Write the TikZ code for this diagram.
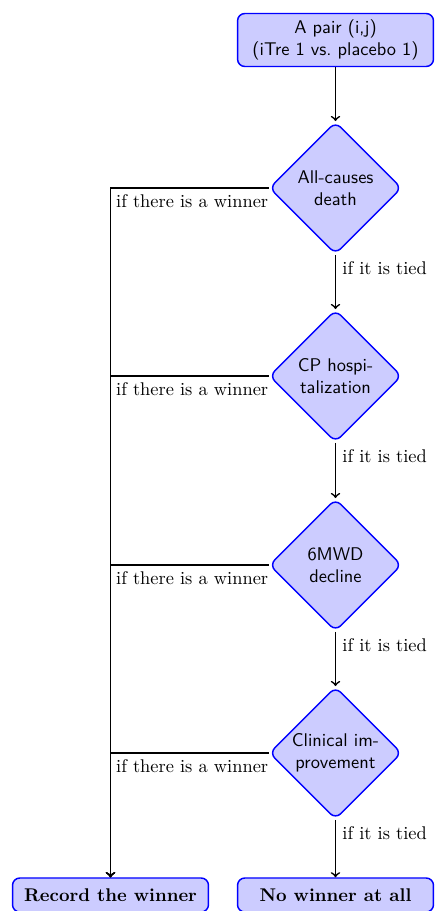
\documentclass[tikz,border=0pt]{standalone}
\usetikzlibrary{shapes.geometric}
\begin{document}
\begin{tikzpicture}[x=0.5435pt, y=-0.5435pt,
  boxnode/.style={draw=blue, fill=blue!20, thick, rounded corners,
    minimum width=106.5pt, align=center},
  decision/.style={diamond, draw=blue, fill=blue!20, thick, rounded corners,
    inner sep=0pt, minimum size=72pt, align=center, font=\sffamily},
  link/.style={line width=0.9pt, ->},
  tiedlabel/.style={pos=0, anchor=north west},
  winlabel/.style={anchor=north east, inner xsep=0pt}]
\useasboundingbox (0,0) rectangle (434,911);

\node[boxnode, font=\sffamily, minimum height=28.8pt] (pair) at (335.5,40)
  {A pair (i,j)\\(iTre 1 vs.\ placebo 1)};
\node[decision] (death) at (335.5,188) {All-causes\\death};
\node[decision] (hosp)  at (335.5,376) {CP hospi-\\talization};
\node[decision] (mwd)   at (335.5,565) {6MWD\\decline};
\node[decision] (clin)  at (335.5,753) {Clinical im-\\provement};
\node[boxnode, font=\bfseries, minimum height=18.5pt] (rec)  at (110.5,895) {Record the winner};
\node[boxnode, font=\bfseries, minimum height=18.5pt] (none) at (335.5,895) {No winner at all};

% main chain
\draw[link] (pair) -- (death);
\draw[link] (death) -- node[tiedlabel] {if it is tied} (hosp);
\draw[link] (hosp)  -- node[tiedlabel] {if it is tied} (mwd);
\draw[link] (mwd)   -- node[tiedlabel] {if it is tied} (clin);
\draw[link] (clin)  -- node[tiedlabel] {if it is tied} (none);

% winner branches
\foreach \d in {death,hosp,mwd,clin}{
  \draw[link] (\d.west) -| (rec);
  \node[winlabel] at (\d.west) {if there is a winner};
}
\end{tikzpicture}
\end{document}
